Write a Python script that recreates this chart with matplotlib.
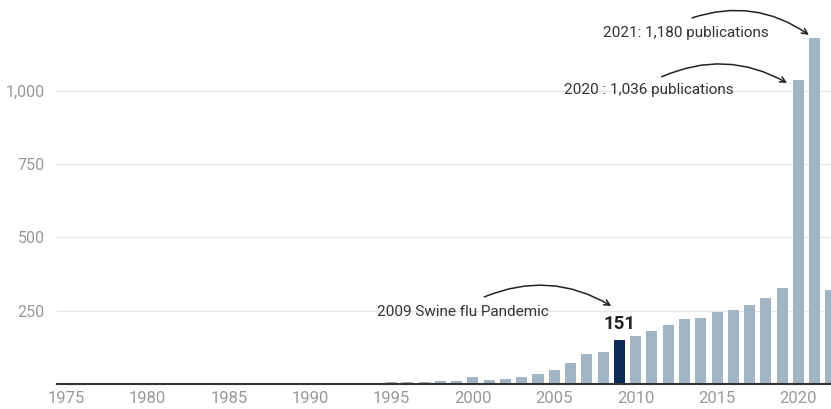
import matplotlib
matplotlib.use("Agg")
import matplotlib.pyplot as plt

plt.rcParams['font.family'] = ['Roboto', 'DejaVu Sans']

# Publications per year, 1975-2022
years = list(range(1975, 2023))
counts = (
    [0] * 18                                             # 1975-1992
    + [1, 4, 6, 8, 8, 10, 10]                            # 1993-1999
    + [24, 12, 17, 25, 35, 48, 71, 102, 110]             # 2000-2008
    + [151]                                              # 2009
    + [164, 181, 201, 223, 225, 244, 251, 270, 293, 329] # 2010-2019
    + [1036, 1180, 322]                                  # 2020-2022
)

highlight_year = 2009
ytick_vals = [250, 500, 750, 1000]
ytick_labels = ['250', '500', '750', '1,000']
xtick_vals = [1975, 1980, 1985, 1990, 1995, 2000, 2005, 2010, 2015, 2020]

bar_color = '#a3b5c5'
dark_color = '#0b2a55'
text_color = '#333333'

fig = plt.figure(figsize=(8.31, 4.09), dpi=100)
ax = fig.add_axes([57 / 831, 25 / 409, 1 - 57 / 831, 384 / 409])

colors = [dark_color if y == highlight_year else bar_color for y in years]
ax.bar(years, counts, width=0.68, color=colors, zorder=2)

ax.set_xlim(1974.45, 2022.0)
ax.set_ylim(0, 1310)

ax.set_yticks(ytick_vals)
ax.set_yticklabels(ytick_labels)
ax.set_xticks(xtick_vals)
ax.tick_params(axis='both', length=0, labelcolor='#999999')
ax.tick_params(axis='y', pad=9, labelsize=11.5)
ax.tick_params(axis='x', pad=5, labelsize=12)
ax.grid(axis='y', color='#e6e6e6', linewidth=1, zorder=0)
ax.set_axisbelow(True)

for s in ['top', 'right', 'left']:
    ax.spines[s].set_visible(False)
ax.spines['bottom'].set_color('#333333')
ax.spines['bottom'].set_linewidth(1.5)
ax.spines['bottom'].set_zorder(3)

# annotations
ax.text(2009, 205, '151', ha='center', va='center', fontsize=13.5,
        fontweight='bold', color='#222222')
ax.text(1994.1, 246, '2009 Swine flu Pandemic', ha='left', va='center',
        fontsize=11, color=text_color)
ax.text(2005.6, 1003, '2020 : 1,036 publications', ha='left', va='center',
        fontsize=11, color=text_color)
ax.text(2008.0, 1198, '2021: 1,180 publications', ha='left', va='center',
        fontsize=11, color=text_color)

arrow_kw = dict(arrowstyle='->', color='#222222', lw=1.1,
                connectionstyle='arc3,rad=-0.25', shrinkA=0, shrinkB=0)
ax.annotate('', xy=(2008.5, 266), xytext=(2000.7, 297), arrowprops=arrow_kw)
ax.annotate('', xy=(2019.3, 1027), xytext=(2011.6, 1048), arrowprops=arrow_kw)
ax.annotate('', xy=(2020.64, 1191), xytext=(2013.47, 1249), arrowprops=arrow_kw)

fig.savefig('out.png', dpi=100)
